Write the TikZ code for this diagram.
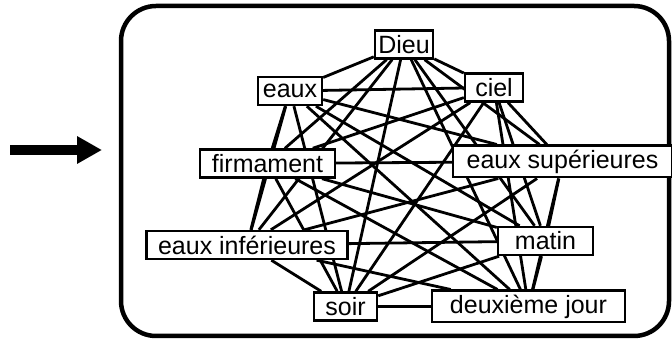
\documentclass[tikz,border=0pt]{standalone}
\usepackage{fontspec}
\setmainfont{Liberation Sans}
\usetikzlibrary{arrows.meta,backgrounds}
\tikzset{
	word/.style={draw, line width=1.2pt, fill=white, inner xsep=1pt, inner ysep=2pt,
			minimum height=14pt, font=\fontsize{12.5pt}{15pt}\selectfont},
	link/.style={line width=1.4pt},
	frame/.style={line width=2.25pt, rounded corners=17.5pt}
}

\begin{document}
\begin{tikzpicture}[x=0.5pt,y=-0.5pt]
		\useasboundingbox (0,0) rectangle (672,340);
		\draw[frame] (121,6) rectangle (669,336);
		\coordinate (tail) at (10,150);
		\coordinate (head) at (102,150);
		\draw[line width=5pt, -{Triangle[length=12.5pt,width=13pt]}] (tail) -- (head);
		\node[word, minimum width=29pt] (dieu) at (404,44.5) {Dieu};
		\node[word, minimum width=29pt] (ciel) at (494,87.5) {ciel};
		\node[word, minimum width=32pt] (eaux) at (290,91) {eaux};
		\node[word, minimum width=67.5pt] (firmament) at (267.5,163.5) {firmament};
		\node[word, minimum width=109.5pt] (eauxsup) at (562.5,161.5) {eaux supérieures};
		\node[word, minimum width=100.5pt] (eauxinf) at (247,245) {eaux inférieures};
		\node[word, minimum width=47.5pt] (matin) at (545.5,241) {matin};
		\node[word, minimum width=31.5pt] (soir) at (345.5,306.5) {soir};
		\node[word, minimum width=96.5pt] (jour) at (528.5,306.5) {deuxième jour};
		\begin{scope}[on background layer]
			\foreach \a [count=\i] in {dieu,ciel,eauxsup,matin,jour,soir,eauxinf,firmament,eaux}
				\foreach \b [count=\j] in {dieu,ciel,eauxsup,matin,jour,soir,eauxinf,firmament,eaux}
					{\ifnum\j>\i \draw[link] (\a) -- (\b); \fi}
		\end{scope}
	\end{tikzpicture}
\end{document}
